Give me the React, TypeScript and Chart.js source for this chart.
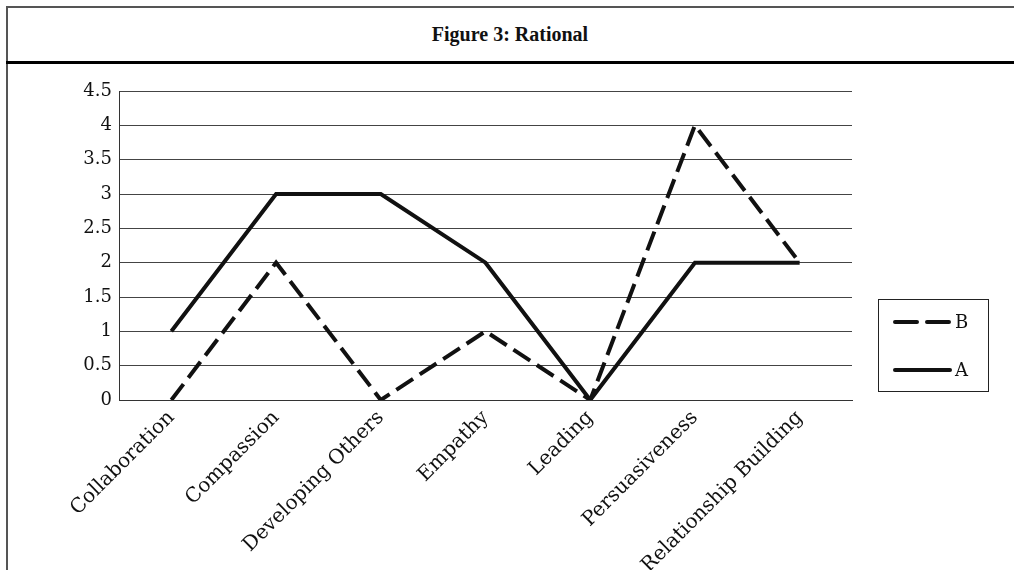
import React, { useEffect, useRef } from "react";
import { Chart, registerables } from "chart.js";

Chart.register(...registerables);

const categories = [
  "Collaboration",
  "Compassion",
  "Developing Others",
  "Empathy",
  "Leading",
  "Persuasiveness",
  "Relationship Building",
];
const seriesA = [1, 3, 3, 2, 0, 2, 2];
const seriesB = [0, 2, 0, 1, 0, 4, 2];
const yMin = 0;
const yMax = 4.5;
const yStep = 0.5;
const titleText = "Figure 3: Rational";

const SERIF = "'DejaVu Serif', 'Liberation Serif', serif";

const boxLegend = {
  id: "boxLegend",
  afterDraw(chart: any) {
    const ctx = chart.ctx;
    const x0 = 878, y0 = 299, w = 110, h = 92;
    ctx.save();
    ctx.strokeStyle = "#222";
    ctx.lineWidth = 1;
    ctx.setLineDash([]);
    ctx.strokeRect(x0 + 0.5, y0 + 0.5, w, h);
    const ds = chart.data.datasets.slice().reverse();
    const rows = [322, 370];
    ds.forEach((d: any, i: number) => {
      const y = rows[i];
      ctx.beginPath();
      ctx.strokeStyle = d.borderColor;
      ctx.lineWidth = d.borderWidth;
      ctx.lineCap = "round";
      ctx.setLineDash(d.borderDash ? [22, 10] : []);
      ctx.moveTo(895, y);
      ctx.lineTo(950, y);
      ctx.stroke();
      ctx.setLineDash([]);
      ctx.fillStyle = "#111";
      ctx.font = "18px " + SERIF;
      ctx.textBaseline = "middle";
      ctx.textAlign = "left";
      ctx.fillText(d.label, 955, y + 1);
    });
    ctx.restore();
  },
};

export default function App() {
  const ref = useRef<HTMLCanvasElement | null>(null);

  useEffect(() => {
    document.body.style.margin = "0";
    const canvas = ref.current!;
    const chart = new Chart(canvas, {
      type: "line",
      data: {
        labels: categories,
        datasets: [
          {
            label: "A",
            data: seriesA,
            borderColor: "#111",
            borderWidth: 4,
            pointRadius: 0,
            tension: 0,
            borderJoinStyle: "miter",
            borderCapStyle: "butt",
            fill: false,
          },
          {
            label: "B",
            data: seriesB,
            borderColor: "#111",
            borderWidth: 4,
            borderDash: [20, 8],
            pointRadius: 0,
            tension: 0,
            borderJoinStyle: "miter",
            borderCapStyle: "butt",
            fill: false,
          },
        ],
      },
      options: {
        animation: false,
        responsive: false,
        layout: { padding: { left: 60, top: 91, right: 162, bottom: 0 } },
        plugins: {
          legend: { display: false },
          title: { display: false },
          tooltip: { enabled: false },
        },
        scales: {
          x: {
            offset: true,
            grid: { display: false, drawTicks: false },
            border: { display: true, color: "#333", width: 1 },
            ticks: {
              minRotation: 45,
              maxRotation: 45,
              autoSkip: false,
              padding: 6,
              color: "#111",
              font: { family: SERIF, size: 20 },
            },
            afterFit(scale: any) {
              scale.height = 170;
            },
          },
          y: {
            min: yMin,
            max: yMax,
            grid: { color: "#444", lineWidth: 1, drawTicks: false },
            border: { display: true, color: "#333", width: 1 },
            ticks: {
              stepSize: yStep,
              padding: 7,
              color: "#111",
              font: { family: SERIF, size: 18 },
              callback: (v: any) => `${v}`,
            },
            afterFit(scale: any) {
              scale.width = 59;
            },
          },
        },
      },
      plugins: [boxLegend],
    });
    return () => chart.destroy();
  }, []);

  return (
    <div style={{ position: "absolute", left: 0, top: 0, width: 1014, height: 570, background: "#fff", overflow: "hidden" }}>
      <div style={{ position: "absolute", left: 6, top: 6, right: 0, height: 2, background: "#555" }} />
      <div style={{ position: "absolute", left: 6, top: 6, bottom: 0, width: 2, background: "#555" }} />
      <div style={{ position: "absolute", left: 6, top: 61, right: 0, height: 3, background: "#000" }} />
      <div
        style={{
          position: "absolute",
          left: 6,
          right: 0,
          top: 8,
          height: 53,
          display: "flex",
          alignItems: "center",
          justifyContent: "center",
          fontFamily: "'Liberation Serif', serif",
          fontWeight: "bold",
          fontSize: 20,
          color: "#111",
        }}
      >
        {titleText}
      </div>
      <canvas ref={ref} width={1014} height={570} style={{ position: "absolute", left: 0, top: 0 }} />
    </div>
  );
}
